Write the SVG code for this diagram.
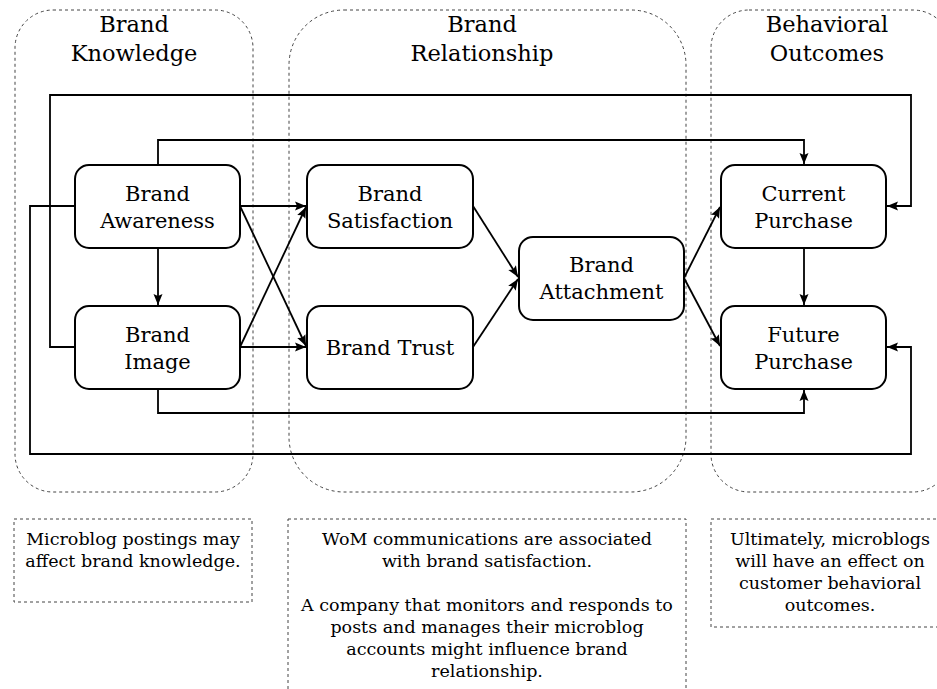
<svg xmlns="http://www.w3.org/2000/svg" width="937" height="689" viewBox="0 0 937 689">
<style>
.grp{fill:none;stroke:#444;stroke-width:1;stroke-dasharray:3,3}
.node{fill:#fff;stroke:#000;stroke-width:2}
.t{font-family:"DejaVu Serif","Liberation Serif",serif;fill:#000;text-anchor:middle}
.title{font-size:22.5px}
.nt{font-size:21px}
.note{font-size:17.5px}
.c{fill:none;stroke:#000;stroke-width:1.8;marker-end:url(#ah)}
</style>
<defs>
<marker id="ah" markerUnits="userSpaceOnUse" markerWidth="14" markerHeight="12" viewBox="0 0 14 12" refX="12" refY="6" orient="auto">
<path d="M1,1.5 L12,6 L1,10.5 L3,6 Z" fill="#000"/>
</marker>
</defs>
<rect width="937" height="689" fill="#fff"/>
<g id="groups">
<rect class="grp" x="15" y="10" width="238" height="482" rx="38" ry="38"/>
<rect class="grp" x="289" y="10" width="397" height="482" rx="55" ry="55"/>
<rect class="grp" x="711" y="10" width="240" height="482" rx="38" ry="38"/>
<text class="t title" x="134" y="32">Brand</text>
<text class="t title" x="134" y="61">Knowledge</text>
<text class="t title" x="482" y="32">Brand</text>
<text class="t title" x="482" y="61">Relationship</text>
<text class="t title" x="827" y="32">Behavioral</text>
<text class="t title" x="827" y="61">Outcomes</text>
</g>
<g id="connectors">
<path class="c" d="M75,347 H50 V95 H911 V206 H887"/>
<path class="c" d="M158,165 V140 H804 V164"/>
<path class="c" d="M75,206 H30 V454 H911 V347 H887"/>
<path class="c" d="M158,389 V413 H804 V390"/>
<path class="c" d="M158,248 V305"/>
<path class="c" d="M804,248 V305"/>
<path class="c" d="M240,206 H306"/>
<path class="c" d="M240,206 L306,346"/>
<path class="c" d="M240,347 H306"/>
<path class="c" d="M240,347 L306,207"/>
<path class="c" d="M473,206 L518,277"/>
<path class="c" d="M473,347 L518,279"/>
<path class="c" d="M684,278 L720,207"/>
<path class="c" d="M684,278 L720,346"/>
</g>
<g id="brand-awareness">
<rect class="node" x="75" y="165" width="165" height="83" rx="14"/>
<text class="t nt" x="157.5" y="201">Brand</text>
<text class="t nt" x="157.5" y="228">Awareness</text>
</g>
<g id="brand-image">
<rect class="node" x="75" y="306" width="165" height="83" rx="14"/>
<text class="t nt" x="157.5" y="342">Brand</text>
<text class="t nt" x="157.5" y="369">Image</text>
</g>
<g id="brand-satisfaction">
<rect class="node" x="307" y="165" width="166" height="83" rx="14"/>
<text class="t nt" x="390" y="201">Brand</text>
<text class="t nt" x="390" y="228">Satisfaction</text>
</g>
<g id="brand-trust">
<rect class="node" x="307" y="306" width="166" height="83" rx="14"/>
<text class="t nt" x="390" y="355">Brand Trust</text>
</g>
<g id="brand-attachment">
<rect class="node" x="519" y="237" width="165" height="83" rx="14"/>
<text class="t nt" x="601.5" y="272">Brand</text>
<text class="t nt" x="601.5" y="299">Attachment</text>
</g>
<g id="current-purchase">
<rect class="node" x="721" y="165" width="165" height="83" rx="14"/>
<text class="t nt" x="803.5" y="201">Current</text>
<text class="t nt" x="803.5" y="228">Purchase</text>
</g>
<g id="future-purchase">
<rect class="node" x="721" y="306" width="165" height="83" rx="14"/>
<text class="t nt" x="803.5" y="342">Future</text>
<text class="t nt" x="803.5" y="369">Purchase</text>
</g>
<g id="note-knowledge">
<rect class="grp" x="14" y="519" width="238" height="83"/>
<text class="t note" x="133" y="545">Microblog postings may</text>
<text class="t note" x="133" y="567">affect brand knowledge.</text>
</g>
<g id="note-relationship">
<rect class="grp" x="288" y="519" width="398" height="200"/>
<text class="t note" x="487" y="545">WoM communications are associated</text>
<text class="t note" x="487" y="567">with brand satisfaction.</text>
<text class="t note" x="487" y="611">A company that monitors and responds to</text>
<text class="t note" x="487" y="633">posts and manages their microblog</text>
<text class="t note" x="487" y="655">accounts might influence brand</text>
<text class="t note" x="487" y="677">relationship.</text>
</g>
<g id="note-outcomes">
<rect class="grp" x="711" y="519" width="240" height="108"/>
<text class="t note" x="830" y="545">Ultimately, microblogs</text>
<text class="t note" x="830" y="567">will have an effect on</text>
<text class="t note" x="830" y="589">customer behavioral</text>
<text class="t note" x="830" y="611">outcomes.</text>
</g>
</svg>
